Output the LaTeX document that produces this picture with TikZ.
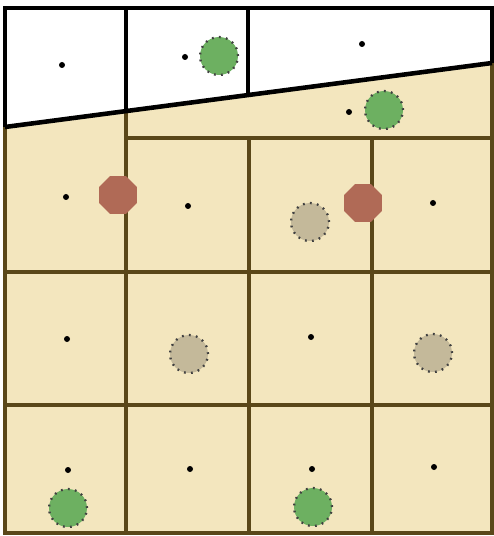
\documentclass[tikz,border=0pt]{standalone}
\usepackage{tikz,xcolor}
\usetikzlibrary{shapes.geometric}
\definecolor{sand}{HTML}{F3E6BE}
\definecolor{wall}{HTML}{5A4719}
\definecolor{grass}{HTML}{6DB061}
\definecolor{brick}{HTML}{B06A56}
\definecolor{pebble}{HTML}{C4B99A}

\begin{document}
\begin{tikzpicture}[x=0.02cm,y=-0.02cm]
    \useasboundingbox (0,0) rectangle (493,536);

    % ground
    \fill[sand] (5,127)--(492,63)--(492,533)--(5,533)--cycle;

    % brown grid
    \tikzstyle{grid}=[draw=wall,line width=2.2pt]
    \draw[grid] (5,127)--(5,533)--(492,533)--(492,63);
    \draw[grid] (126,111)--(126,533);
    \draw[grid] (249,138)--(249,533);
    \draw[grid] (372,138)--(372,533);
    \draw[grid] (126,138)--(492,138);
    \draw[grid] (5,272)--(492,272);
    \draw[grid] (5,405)--(492,405);

    % white strip on top
    \tikzstyle{border}=[draw=black,line width=2pt]
    \draw[border] (5,127)--(5,8)--(492,8)--(492,63);
    \draw[border] (126,8)--(126,111);
    \draw[border] (248,8)--(248,95);
    \draw[border,line width=2.6pt] (5,127)--(492,63);

    \tikzstyle{every node}=[circle,inner sep=0pt]
    \tikzstyle{dot}=[fill=black,minimum size=0.12cm]
    \tikzstyle{token}=[minimum size=0.76cm,draw=black!75,line width=1.3pt,dash pattern=on 1pt off 3pt]
    \tikzstyle{leaf}=[token,fill=grass]
    \tikzstyle{stone}=[token,fill=pebble]
    \tikzstyle{camp}=[regular polygon,regular polygon sides=8,minimum size=0.82cm,fill=brick]

    % centre dots
    \node[dot](d1) at (62,65){};
    \node[dot](d2) at (185,57){};
    \node[dot](d3) at (362,44){};
    \node[dot](d4) at (349,112){};
    \node[dot](d5) at (66,197){};
    \node[dot](d6) at (188,206){};
    \node[dot](d7) at (433,203){};
    \node[dot](d8) at (67,339){};
    \node[dot](d9) at (311,337){};
    \node[dot](d10) at (68,470){};
    \node[dot](d11) at (190,469){};
    \node[dot](d12) at (312,469){};
    \node[dot](d13) at (434,467){};

    % markers
    \node[leaf](g1) at (219,56){};
    \node[leaf](g2) at (384,110){};
    \node[leaf](g3) at (68,508){};
    \node[leaf](g4) at (313,507){};
    \node[camp](c1) at (118,195){};
    \node[camp](c2) at (363,203){};
    \node[stone](s1) at (310,222){};
    \node[stone](s2) at (189,354){};
    \node[stone](s3) at (433,353){};

\end{tikzpicture}
\end{document}
